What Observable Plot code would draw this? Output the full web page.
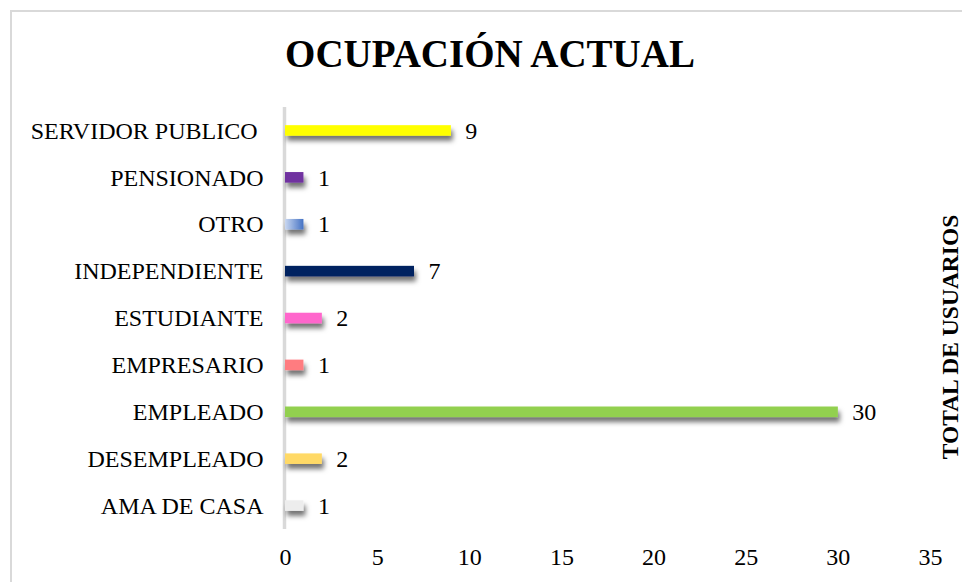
<!DOCTYPE html>
<html>
<head>
<meta charset="utf-8">
<script src="https://cdn.jsdelivr.net/npm/d3@7"></script>
<script src="https://cdn.jsdelivr.net/npm/@observablehq/plot@0.6"></script>
<style>
  html, body { margin: 0; padding: 0; background: #fff; overflow: hidden; }
  #wrap { position: relative; width: 962px; height: 582px; overflow: hidden; font-family: "Liberation Serif", "Times New Roman", serif; }
  #border { position: absolute; left: 10px; top: 10px; width: 1000px; height: 700px; border: 2px solid #d9d9d9; box-sizing: border-box; }
  #title { position: absolute; left: 0; width: 980px; top: 34px; text-align: center; font-size: 39px; font-weight: bold; line-height: 1; color: #000; }
  #ytitle { position: absolute; left: 950px; top: 337px; width: 280px; margin-left: -140px; margin-top: -10px; height: 20px; line-height: 20px; text-align: center; font-size: 23.5px; font-weight: bold; color: #000; transform: rotate(-90deg); transform-origin: 50% 50%; white-space: nowrap; }
  #chart { position: absolute; left: 0; top: 0; }
</style>
</head>
<body>
<div id="wrap">
  <div id="border"></div>
  <div id="chart"></div>
  <div id="title">OCUPACIÓN ACTUAL</div>
  <div id="ytitle"></div>
</div>
<script>
const categories = ["SERVIDOR PUBLICO ", "PENSIONADO", "OTRO", "INDEPENDIENTE", "ESTUDIANTE", "EMPRESARIO", "EMPLEADO", "DESEMPLEADO", "AMA DE CASA"];
const values = [9, 1, 1, 7, 2, 1, 30, 2, 1];
const colors = ["#ffff00", "#7030a0", "url(#otroGrad)", "#002060", "#ff66cc", "#ff7c80", "#92d050", "#ffd966", "#ededed"];
const xTicks = [0, 5, 10, 15, 20, 25, 30, 35];
const axisTitle = "TOTAL DE USUARIOS";

document.getElementById("ytitle").textContent = axisTitle;

const data = categories.map((c, i) => ({cat: c, value: values[i], color: colors[i]}));

const plot = Plot.plot({
  width: 962,
  height: 582,
  marginLeft: 285,
  marginRight: 32,
  marginTop: 107,
  marginBottom: 53,
  style: {fontFamily: "'Liberation Serif', 'Times New Roman', serif", fontSize: "24px", color: "#000", background: "transparent", overflow: "visible"},
  x: {domain: [0, 35], ticks: xTicks, tickSize: 0, tickPadding: 18, label: null},
  y: {domain: categories, paddingInner: 0.775, paddingOuter: 0.3875, round: false, tickSize: 0, tickPadding: 22, label: null,
      tickFormat: d => d.replace(/ $/, "\u00a0")},
  color: {type: "identity"},
  marks: [
    Plot.ruleX([0], {stroke: "#d9d9d9", strokeWidth: 3.5, dx: -1}),
    Plot.barX(data, {x: "value", y: "cat", fill: "color", ariaDescription: "bars"}),
    Plot.text(data, {x: "value", y: "cat", text: d => String(d.value), textAnchor: "start", dx: 14, fill: "#000", fontSize: 24})
  ]
});

const ns = "http://www.w3.org/2000/svg";
const defs = document.createElementNS(ns, "defs");
defs.innerHTML = `
  <linearGradient id="otroGrad" x1="0" y1="0" x2="1" y2="0">
    <stop offset="0" stop-color="#c9d7f0"/>
    <stop offset="1" stop-color="#4472c4"/>
  </linearGradient>
  <filter id="shadow" x="-20%" y="-100%" width="160%" height="400%">
    <feDropShadow dx="2" dy="5" stdDeviation="2.4" flood-color="#000" flood-opacity="0.55"/>
  </filter>`;
plot.insertBefore(defs, plot.firstChild);
const barGroup = plot.querySelector('g[aria-description="bars"]') || plot.querySelector('g[aria-label="bar"]');
if (barGroup) barGroup.setAttribute("filter", "url(#shadow)");

document.getElementById("chart").appendChild(plot);
</script>
</body>
</html>
